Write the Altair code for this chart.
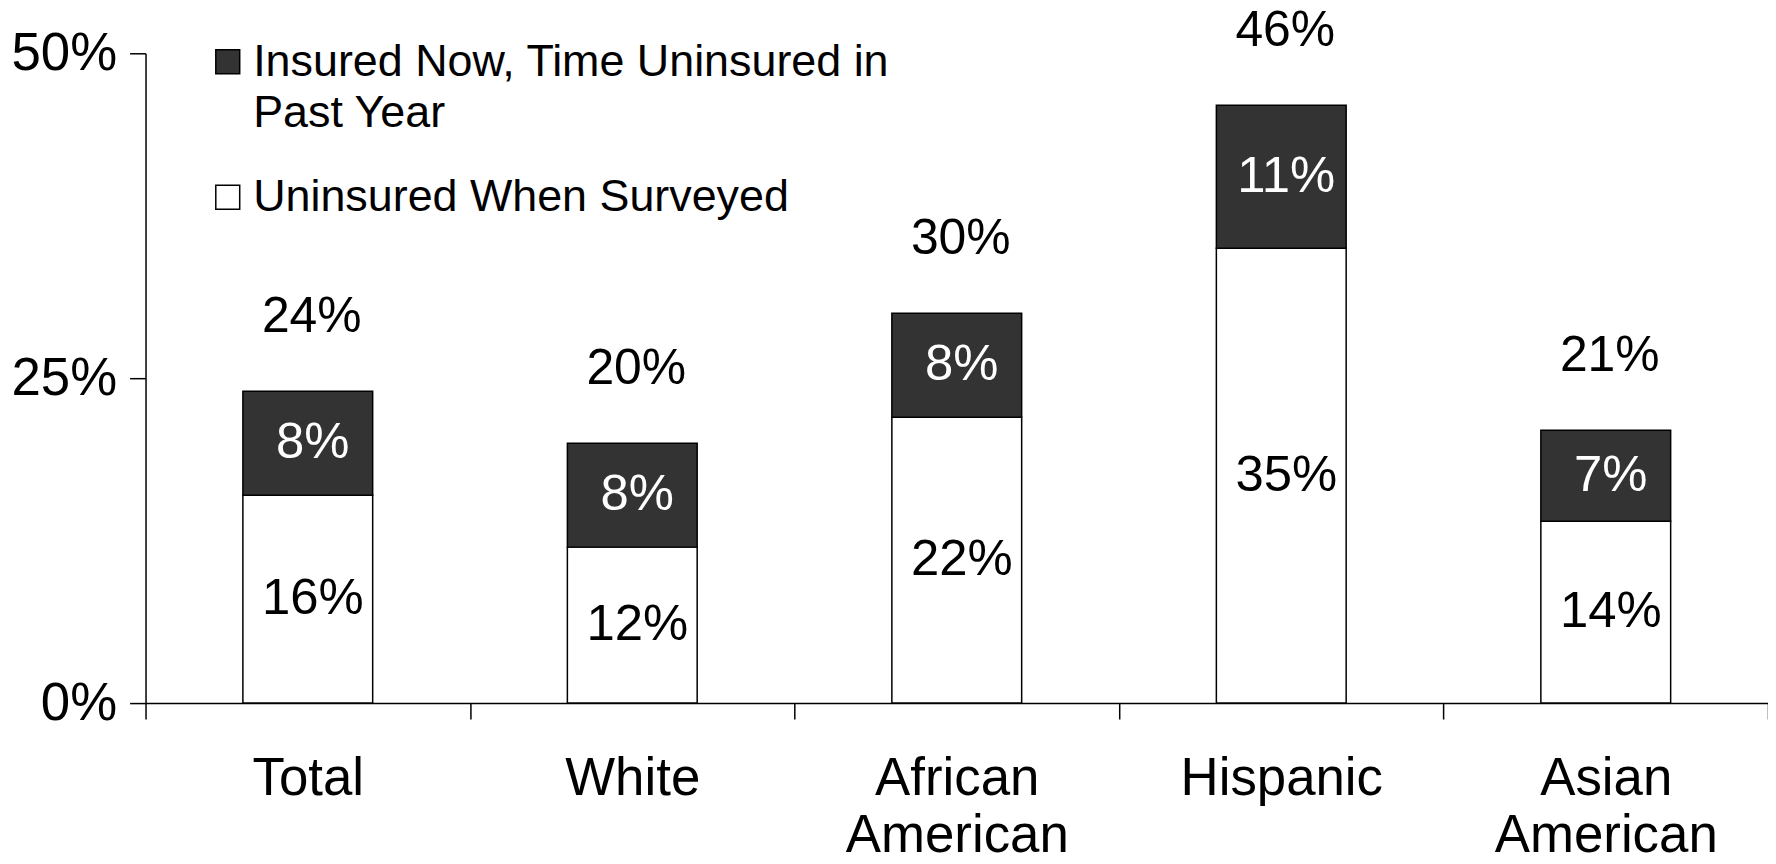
import altair as alt
import pandas as pd

categories = ["Total", "White", "African American", "Hispanic", "Asian American"]
uninsured_when_surveyed = [16, 12, 22, 35, 14]
insured_now_gap = [8, 8, 8, 11, 7]
totals = [24, 20, 30, 46, 21]
series_names = ["Insured Now, Time Uninsured in Past Year", "Uninsured When Surveyed"]
y_ticks = [0, 25, 50]

FONT = "Liberation Sans"

rows = []
for c, u, g in zip(categories, uninsured_when_surveyed, insured_now_gap):
    rows.append({"category": c, "series": series_names[1], "value": u, "ord": 0})
    rows.append({"category": c, "series": series_names[0], "value": g, "ord": 1})
df = pd.DataFrame(rows)
tot = pd.DataFrame({"category": categories, "total": totals})

x_enc = alt.X(
    "category:N",
    sort=categories,
    scale=alt.Scale(paddingInner=0, paddingOuter=0),
    axis=alt.Axis(
        title=None,
        labelAngle=0,
        labelExpr="split(datum.label, ' ')",
        tickBand="extent",
        tickSize=16,
        tickColor="black",
        domainColor="black",
        domainWidth=1.5,
        tickWidth=1.5,
        labelFont=FONT,
        labelFontSize=53,
        labelColor="black",
        labelLineHeight=57,
        labelPadding=34,
        labelBaseline="top",
        labelLimit=0,
    ),
)

y_scale = alt.Scale(domain=[0, 50], nice=False)

bars = alt.Chart(df).mark_bar(
    width=alt.RelativeBandSize(0.4), stroke="black", strokeWidth=1.5
).encode(
    x=x_enc,
    y=alt.Y(
        "value:Q",
        stack="zero",
        scale=y_scale,
        axis=alt.Axis(
            title=None,
            values=y_ticks,
            labelExpr="datum.value + '%'",
            tickSize=16,
            tickColor="black",
            domainColor="black",
            domainWidth=1.5,
            tickWidth=1.5,
            grid=False,
            labelFont=FONT,
            labelFontSize=53,
            labelColor="black",
            labelPadding=13,
        ),
    ),
    color=alt.Color(
        "series:N",
        scale=alt.Scale(domain=series_names, range=["#333333", "#ffffff"]),
        legend=alt.Legend(
            title=None,
            orient="none",
            legendX=60,
            legendY=-14,
            padding=0,
            symbolType="square",
            symbolSize=576,
            symbolStrokeColor="black",
            symbolStrokeWidth=1.5,
            labelFont=FONT,
            labelFontSize=45,
            labelColor="black",
            labelLimit=2000,
            labelOffset=3,
            rowPadding=39,
            labelExpr="datum.label == 'Insured Now, Time Uninsured in Past Year' ? ['Insured Now, Time Uninsured in', 'Past Year'] : datum.label",
        ),
    ),
    order=alt.Order("ord:Q"),
)

seg_text = alt.Chart(df).transform_stack(
    stack="value", groupby=["category"], as_=["v0", "v1"], sort=[alt.SortField("ord")]
).transform_calculate(
    mid="(datum.v0 + datum.v1) / 2", lbl="datum.value + '%'"
).mark_text(font=FONT, fontSize=51, dx=5, baseline="middle").encode(
    x=alt.X("category:N", sort=categories),
    y=alt.Y("mid:Q", scale=y_scale),
    text="lbl:N",
    color=alt.condition("datum.ord == 1", alt.value("white"), alt.value("black")),
)

tot_text = alt.Chart(tot).transform_calculate(
    lbl="datum.total + '%'"
).mark_text(font=FONT, fontSize=50, dx=4, dy=-74, baseline="middle", color="black").encode(
    x=alt.X("category:N", sort=categories),
    y=alt.Y("total:Q", scale=y_scale),
    text="lbl:N",
)

chart = alt.layer(bars, seg_text, tot_text).properties(
    width=1628,
    height=652,
    autosize=alt.AutoSizeParams(type="none"),
    padding={"left": 138, "top": 44, "right": 0, "bottom": 152},
    background="white",
).configure(style={"guide-label": {"lineHeight": 51}}).configure_view(strokeWidth=0)

chart.save("out.html", embed_options={"renderer": "svg", "actions": False})
